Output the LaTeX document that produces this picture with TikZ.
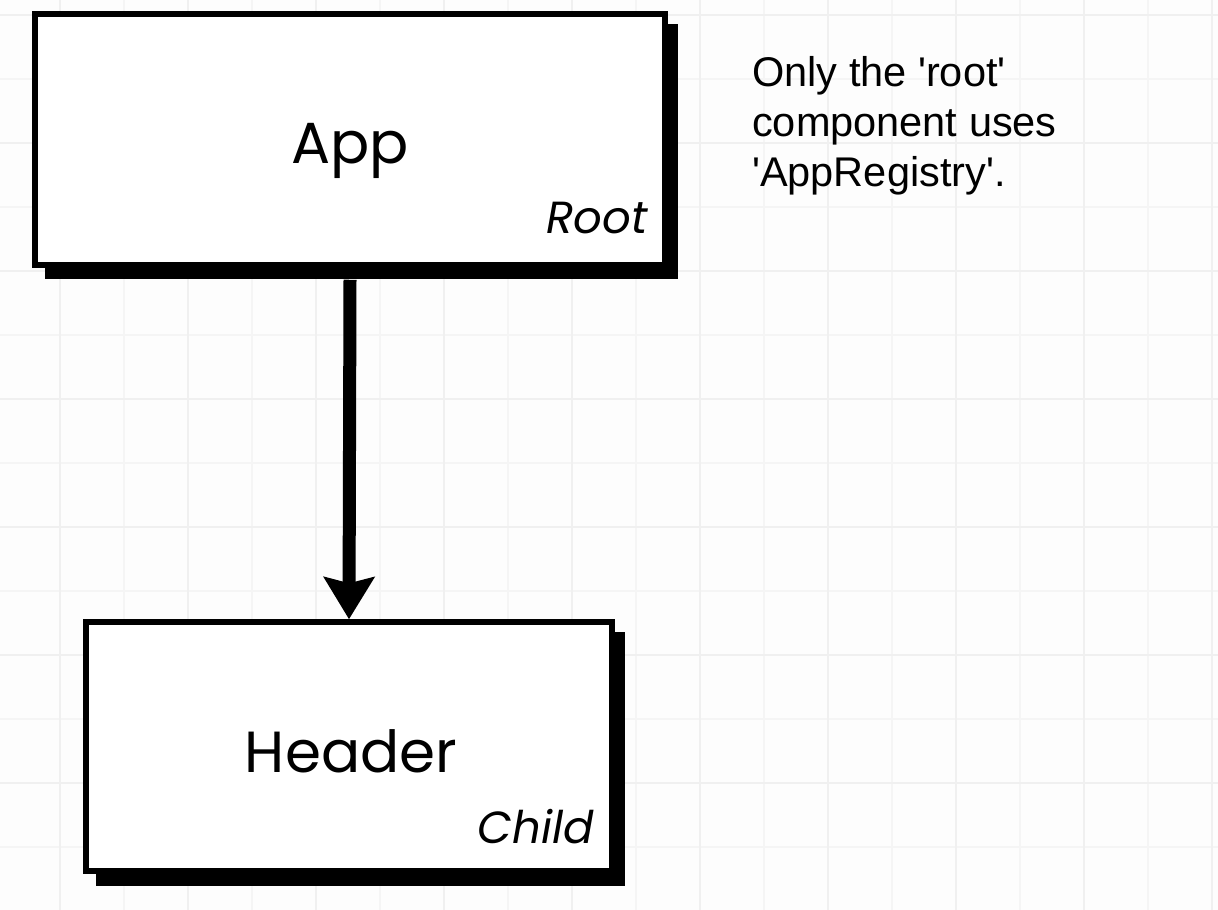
\documentclass[tikz,border=0pt]{standalone}
\usepackage{fontspec}
\setmainfont{Poppins}
\newfontfamily\notefont{Liberation Sans}
\usetikzlibrary{arrows.meta,calc}
\definecolor{bgcol}{HTML}{FDFDFD}
\definecolor{gridfine}{HTML}{F5F5F5}
\definecolor{gridmajor}{HTML}{F0F0F0}
\tikzset{
  box/.style={draw=black, line width=5.5pt, fill=white, inner sep=0pt},
  boxshadow/.style={fill=black},
  mainlabel/.style={font=\fontsize{58}{66}\selectfont, inner sep=0pt, anchor=base},
  rolelabel/.style={font=\fontsize{45}{52}\selectfont\itshape, inner sep=0pt, anchor=base east},
  notetext/.style={font=\notefont\fontsize{41.5}{50}\selectfont, align=left, inner sep=0pt, anchor=north west},
  connector/.style={line width=13pt, -{Stealth[length=42pt, width=50pt, inset=6pt]}}
}
\begin{document}
\begin{tikzpicture}[x=1pt, y=-1pt]
\useasboundingbox (0,0) rectangle (1218,910);
\fill[bgcol] (0,0) rectangle (1218,910);
% grid
\foreach \gx in {124,252,...,1212} \draw[gridfine, line width=1.2pt] (\gx,0) -- (\gx,910);
\foreach \gy in {79,207,...,910} \draw[gridfine, line width=1.2pt] (0,\gy) -- (1218,\gy);
\foreach \gx in {60,188,...,1212} \draw[gridmajor, line width=1.4pt] (\gx,0) -- (\gx,910);
\foreach \gy in {15,143,...,910} \draw[gridmajor, line width=1.4pt] (0,\gy) -- (1218,\gy);

% App box
\node[minimum width=630pt, minimum height=251pt, inner sep=0pt] (appgeo) at (350,139.5) {};
\fill[boxshadow] ($(appgeo.north west)+(10,10)$) rectangle ($(appgeo.south east)+(13,14)$);
\node[box, minimum width=630pt, minimum height=251pt] (app) at (350,139.5) {};
\node[mainlabel] (applabel) at (350,163) {App};
\node[rolelabel] (approle) at (648,233) {Root};

% Header box
\node[minimum width=526pt, minimum height=249pt, inner sep=0pt] (headgeo) at (349,746.5) {};
\fill[boxshadow] ($(headgeo.north west)+(10,10)$) rectangle ($(headgeo.south east)+(13,15)$);
\node[box, minimum width=526pt, minimum height=249pt] (header) at (349,746.5) {};
\node[mainlabel] (headlabel) at (351,772) {Header};
\node[rolelabel] (headrole) at (594,843) {Child};

% connector
\draw[connector] ($(app.south)+(0,12)$) -- (header.north);

% note
\node[notetext] (note) at (752,56) {Only the 'root'\\component uses\\'AppRegistry'.};
\end{tikzpicture}
\end{document}
